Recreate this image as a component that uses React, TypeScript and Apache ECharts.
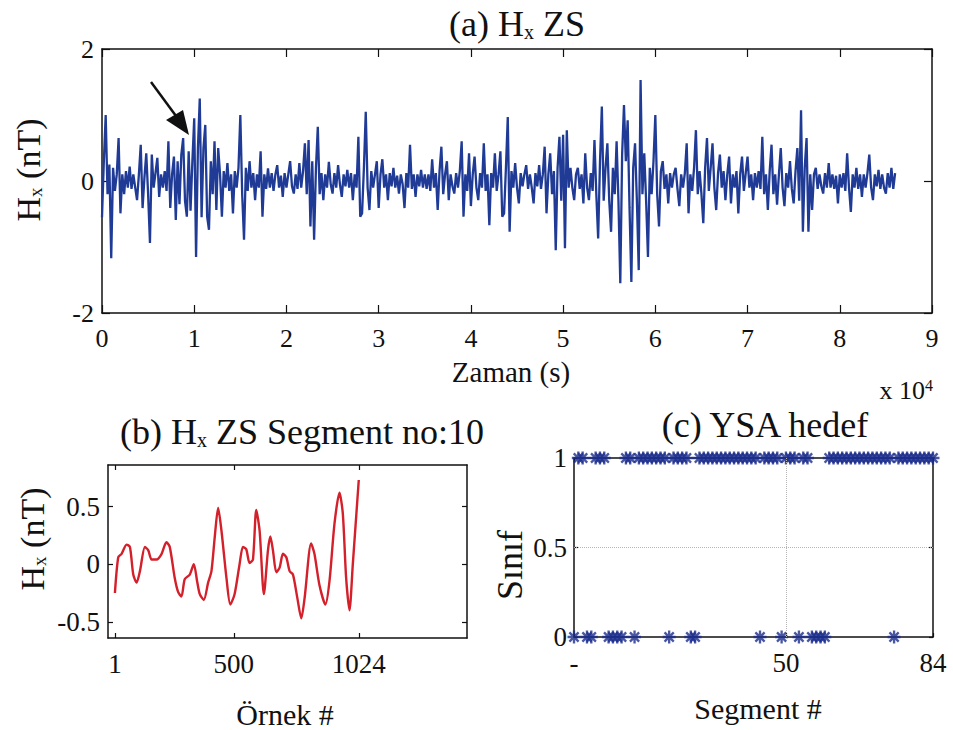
import React, { useEffect, useRef } from 'react';
import * as echarts from 'echarts';

// ---------- data ----------
// (a) Hx signal, one reading every SAMPLE_STEP_S seconds
const SAMPLE_STEP_S = 200;
const hxSignal = [
  -0.55, 0.3, 1.0, -0.2, 0.25, -1.17, 0.2, -0.15, 0.1, 0.65,
  -0.49, 0.1, -0.2, 0.15, -0.1, 0.22, -0.12, 0.1, -0.1, -0.29,
  0.1, 0.55, -0.41, 0.05, 0.42, -0.2, -0.94, 0.4, -0.1, 0.12,
  0.35, -0.24, 0.1, -0.1, 0.15, -0.15, 0.6, -0.41, 0.1, 0.37,
  -0.59, 0.3, -0.35, 0.4, 0.65, -0.3, -0.54, 0.45, -0.45, 0.3,
  0.95, -1.15, 0.5, 1.25, -0.55, 0.5, 0.85, -0.54, -0.74, 0.3,
  -0.2, 0.6, -0.44, 0.5, 0.1, -0.54, 0.15, -0.1, 0.27, -0.15,
  0.1, -0.49, 0.15, -0.1, 0.2, 1.0, -0.2, -0.89, 0.2, -0.15,
  0.3, -0.1, 0.12, -0.29, 0.1, -0.1, 0.45, -0.54, 0.1, -0.12,
  0.19, -0.1, 0.12, -0.15, 0.1, 0.24, -0.1, 0.08, -0.24, 0.12,
  -0.1, 0.1, 0.3, -0.08, -0.19, 0.1, -0.12, 0.27, -0.1, 0.15,
  0.57, -0.2, 0.62, -0.69, 0.3, -0.89, 0.2, 0.82, -0.2, 0.12,
  -0.29, 0.1, -0.1, 0.29, -0.05, -0.19, 0.12, -0.1, 0.24, -0.05,
  -0.24, 0.1, -0.08, 0.17, -0.1, 0.12, -0.29, 0.1, -0.1, 0.67,
  -0.54, -0.49, 0.2, 1.05, -0.1, -0.44, 0.15, -0.1, 0.1, 0.3,
  -0.41, 0.1, 0.33, -0.1, 0.1, -0.29, 0.12, -0.08, 0.2, -0.1,
  0.08, -0.19, 0.1, -0.05, -0.41, 0.12, -0.1, 0.55, -0.12, 0.1,
  -0.24, 0.1, -0.08, 0.17, -0.1, 0.1, -0.12, 0.1, -0.15, 0.33,
  -0.1, 0.12, -0.44, 0.15, 0.52, -0.2, 0.1, 0.3, -0.29, 0.1,
  -0.08, -0.19, 0.12, -0.1, 0.15, 0.6, -0.54, 0.1, -0.15, 0.42,
  -0.38, 0.1, 0.37, -0.1, -0.29, 0.12, -0.1, 0.57, -0.15, 0.1,
  -0.67, 0.12, -0.1, 0.42, -0.15, 0.1, 0.45, -0.54, -0.49, 0.2,
  0.97, -0.77, 0.15, -0.1, 0.27, -0.1, -0.34, 0.12, -0.08, 0.1,
  0.24, -0.12, 0.1, -0.1, -0.34, 0.12, -0.08, 0.24, -0.12, 0.1,
  0.52, -0.49, 0.1, 0.42, -0.2, 0.15, -1.05, 0.2, 0.67, -0.3,
  0.7, -1.02, 0.77, -0.1, 0.2, -0.1, -0.29, 0.1, 0.2, -0.12,
  0.1, -0.34, 0.42, -0.1, -0.29, 0.12, -0.15, 0.62, -0.2, -0.87,
  0.3, 1.13, -0.3, 0.2, 0.57, -0.3, -0.77, 0.2, -0.2, 0.6,
  -0.3, -1.55, 0.4, 1.15, 0.3, 0.92, -0.4, -1.53, 0.2, 0.57,
  -0.3, -1.35, 1.53, -0.2, 0.42, -0.3, -1.15, 0.2, -0.2, 0.3,
  1.0, -0.2, -0.69, 0.15, 0.3, -0.12, 0.1, -0.34, 0.12, -0.1,
  0.1, 0.2, -0.12, -0.38, 0.1, -0.1, 0.12, 0.57, -0.49, 0.1,
  -0.15, 0.2, 0.77, -0.2, 0.15, -0.2, -0.64, 0.2, 0.65, -0.15,
  0.2, 0.57, -0.1, -0.44, 0.12, 0.4, -0.1, 0.15, -0.29, 0.1,
  0.37, -0.34, 0.1, -0.1, 0.15, -0.49, 0.1, 0.37, -0.15, 0.12,
  0.37, -0.1, 0.1, -0.29, 0.12, -0.1, 0.15, -0.12, 0.67, -0.2,
  0.1, -0.44, 0.15, 0.55, -0.2, 0.1, -0.36, 0.1, 0.5, -0.1,
  -0.38, 0.12, -0.1, 0.3, -0.12, -0.34, 0.15, 0.5, -0.3, 1.07,
  -0.77, 0.2, 0.65, -0.77, 0.1, -0.44, 0.1, 0.2, -0.12, 0.1,
  -0.08, -0.19, 0.12, -0.1, 0.27, -0.1, 0.1, -0.12, 0.08, -0.34,
  0.1, -0.1, 0.12, -0.15, 0.42, -0.1, -0.47, 0.1, -0.1, 0.2,
  -0.12, 0.1, -0.24, 0.1, -0.1, 0.12, 0.4, -0.1, -0.29, 0.1,
  -0.08, 0.17, -0.12, 0.1, -0.1, -0.19, 0.12, -0.1, 0.2, -0.12,
  0.12,
];

// (b) segment no. 10, sample index and value
const segSample = [
  1, 15, 29, 50, 64, 78, 92, 106, 127, 141,
  155, 176, 197, 217, 231, 252, 266, 280, 294, 315,
  332, 346, 357, 374, 392, 406, 420, 434, 448, 469,
  485, 503, 524, 538, 552, 566, 580, 594, 608, 626,
  643, 653, 664, 678, 692, 706, 720, 734, 748, 766,
  783, 797, 824, 838, 859, 884, 901, 922, 943, 957,
  971, 985, 999, 1024,
];
const segValue = [
  -0.25, 0.06, 0.09, 0.17, 0.15, -0.09, -0.16, -0.06, 0.15, 0.12,
  0.04, 0.04, 0.09, 0.19, 0.15, -0.12, -0.24, -0.28, -0.13, -0.09,
  0.0, -0.15, -0.26, -0.31, -0.16, -0.06, 0.24, 0.49, 0.29, -0.12,
  -0.35, -0.26, 0.0, 0.15, 0.13, 0.01, 0.04, 0.47, 0.29, -0.26,
  0.12, 0.24, 0.12, -0.07, -0.03, 0.09, 0.06, -0.06, -0.09, -0.29,
  -0.47, -0.29, 0.18, 0.09, -0.18, -0.35, -0.15, 0.35, 0.62, 0.44,
  -0.12, -0.4, 0.0, 0.73,
];

// (c) ANN target class for segments 1..84
const classTarget = [
  0, 1, 1, 0, 0, 1, 1, 1, 0, 0,
  0, 0, 1, 1, 0, 1, 1, 1, 1, 1,
  1, 1, 0, 1, 1, 1, 1, 0, 0, 1,
  1, 1, 1, 1, 1, 1, 1, 1, 1, 1,
  1, 1, 1, 0, 1, 1, 1, 1, 0, 1,
  1, 1, 0, 1, 1, 0, 0, 0, 0, 1,
  1, 1, 1, 1, 1, 1, 1, 1, 1, 1,
  1, 1, 1, 1, 0, 1, 1, 1, 1, 1,
  1, 1, 1, 1,
];

const aYTicks = [-2, 0, 2];
const bXTicks = [1, 500, 1024];
const bYTicks = [-0.5, 0, 0.5];
const cXTicks = [1, 50, 84];

// ---------- styles ----------
const FONT = 'Liberation Serif';
const AXIS_COLOR = '#111';
const ASTERISK =
  'path://M-1.8,-10L1.8,-10L1.8,10L-1.8,10Z' +
  'M-10,-1.8L10,-1.8L10,1.8L-10,1.8Z' +
  'M-5.8,-8.35L8.35,5.8L5.8,8.35L-8.35,-5.8Z' +
  'M-8.35,5.8L5.8,-8.35L8.35,-5.8L-5.8,8.35Z';

function merge(base: any, extra: any) {
  const out: any = { ...base };
  Object.keys(extra).forEach((k) => {
    if (extra[k] && typeof extra[k] === 'object' && !Array.isArray(extra[k]) && base[k] && typeof base[k] === 'object') {
      out[k] = { ...base[k], ...extra[k] };
    } else {
      out[k] = extra[k];
    }
  });
  return out;
}

function axis(gridIndex: number, position: string, tickLen: number, labelSize: number, extra: any) {
  const base = {
    type: 'value',
    gridIndex,
    position,
    axisLine: { show: true, onZero: false, lineStyle: { color: AXIS_COLOR, width: 1.5 } },
    axisTick: { show: true, inside: true, length: tickLen, lineStyle: { color: AXIS_COLOR, width: 1.2 } },
    axisLabel: {
      show: true, color: '#111', fontFamily: FONT, fontSize: labelSize,
      formatter: (v: number) => String(v),
    },
    splitLine: { show: false },
  };
  const res = merge(base, extra);
  if (position === 'top' || position === 'right') res.axisLabel = { ...res.axisLabel, show: false };
  return res;
}

function titleText(x: number, y: number, pre: string, post: string, size: number) {
  return {
    type: 'text',
    x,
    y,
    style: {
      text: `{n|${pre}}{s|x}{n|${post}}`,
      font: `${size}px ${FONT}`,
      align: 'center',
      verticalAlign: 'middle',
      textAlign: 'center',
      textVerticalAlign: 'middle',
      fill: '#111',
      rich: {
        n: { fontFamily: FONT, fontSize: size, lineHeight: size, fill: '#111', color: '#111' },
        s: {
          fontFamily: FONT, fontSize: Math.round(size * 0.55), lineHeight: Math.round(size * 0.3),
          verticalAlign: 'bottom', fill: '#111', color: '#111',
        },
      },
    },
  };
}

function plainText(x: number, y: number, text: string, size: number, rotation = 0) {
  return {
    type: 'text',
    x,
    y,
    rotation,
    style: {
      text,
      font: `${size}px ${FONT}`,
      fontFamily: FONT,
      fontSize: size,
      fill: '#111',
      align: 'center',
      verticalAlign: 'middle',
      textAlign: 'center',
      textVerticalAlign: 'middle',
    },
  };
}

function rotatedHx(x: number, y: number, size: number) {
  const t: any = titleText(x, y, 'H', ' (nT)', size);
  t.rotation = Math.PI / 2;
  return t;
}

export default function App() {
  const ref = useRef<HTMLDivElement>(null);

  useEffect(() => {
    document.body.style.margin = '0';
    if (!ref.current) return;
    const chart = echarts.init(ref.current, undefined, { renderer: 'svg' });

    const hxData = hxSignal.map((v, i) => [i * SAMPLE_STEP_S, v]);
    const segData = segSample.map((s, i) => [s, segValue[i]]);
    const classData = classTarget.map((c, i) => [i + 1, c]);

    const option: any = {
      animation: false,
      backgroundColor: '#fff',
      textStyle: { fontFamily: FONT },
      grid: [
        { left: 102, top: 49, width: 830, height: 264 },
        { left: 108, top: 465, width: 359, height: 173 },
        { left: 574, top: 458, width: 359, height: 179 },
      ],
      xAxis: [
        axis(0, 'bottom', 8, 26, {
          min: 0, max: 90000, interval: 10000,
          axisLabel: { margin: 12, formatter: (v: number) => String(v / 10000) },
        }),
        axis(0, 'top', 8, 26, { min: 0, max: 90000, interval: 10000 }),
        axis(1, 'bottom', 5, 27, {
          min: -28, max: 1478,
          axisTick: { customValues: bXTicks },
          axisLabel: { margin: 12, customValues: bXTicks },
        }),
        axis(1, 'top', 5, 27, { min: -28, max: 1478, axisTick: { customValues: bXTicks }, axisLabel: { customValues: bXTicks } }),
        axis(2, 'bottom', 4, 27, {
          min: 1, max: 84,
          axisTick: { customValues: cXTicks },
          axisLabel: { margin: 12, customValues: cXTicks, formatter: (v: number) => (v === 1 ? '-' : String(v)) },
        }),
        axis(2, 'top', 4, 27, { min: 1, max: 84, axisTick: { customValues: cXTicks }, axisLabel: { customValues: cXTicks } }),
      ],
      yAxis: [
        axis(0, 'left', 8, 26, {
          min: -2, max: 2,
          axisTick: { customValues: aYTicks },
          axisLabel: { margin: 8, customValues: aYTicks },
        }),
        axis(0, 'right', 8, 26, { min: -2, max: 2, axisTick: { customValues: aYTicks }, axisLabel: { customValues: aYTicks } }),
        axis(1, 'left', 5, 27, {
          min: -0.64, max: 0.86,
          axisTick: { customValues: bYTicks },
          axisLabel: { margin: 8, customValues: bYTicks },
        }),
        axis(1, 'right', 5, 27, { min: -0.64, max: 0.86, axisTick: { customValues: bYTicks }, axisLabel: { customValues: bYTicks } }),
        axis(2, 'left', 4, 27, {
          min: 0, max: 1, interval: 0.5,
          axisLabel: { margin: 7 },
        }),
        axis(2, 'right', 4, 27, { min: 0, max: 1, interval: 0.5 }),
      ],
      series: [
        {
          type: 'line',
          xAxisIndex: 0,
          yAxisIndex: 0,
          data: hxData,
          showSymbol: false,
          lineStyle: { color: '#1f3b95', width: 2.3 },
          z: 3,
        },
        {
          type: 'line',
          xAxisIndex: 2,
          yAxisIndex: 2,
          data: segData,
          showSymbol: false,
          smooth: 0.25,
          lineStyle: { color: '#d3202b', width: 2.4 },
          z: 3,
        },
        {
          type: 'scatter',
          xAxisIndex: 4,
          yAxisIndex: 4,
          data: classData,
          symbol: ASTERISK,
          symbolSize: 13,
          itemStyle: { color: '#1c2d8c' },
          z: 4,
          markLine: {
            silent: true,
            symbol: ['none', 'none'],
            label: { show: false },
            lineStyle: { type: 'dotted', color: '#b5b5b5', width: 1 },
            data: [{ xAxis: 50 }, { yAxis: 0.5 }],
          },
        },
      ],
      graphic: [
        titleText(517, 24, '(a) H', ' ZS', 36),
        titleText(302, 432, '(b) H', ' ZS Segment no:10', 36),
        plainText(765, 425, '(c) YSA hedef', 36),
        rotatedHx(28, 170, 34),
        rotatedHx(32, 539, 34),
        plainText(510, 565, 'Sınıf', 36, Math.PI / 2),
        plainText(511, 372, 'Zaman (s)', 29),
        plainText(285, 714, 'Örnek #', 30),
        plainText(758, 708, 'Segment #', 30),
        {
          type: 'text',
          x: 933,
          y: 390,
          style: {
            text: '{n|x 10}{p|4}',
            font: `26px ${FONT}`,
            align: 'right',
            verticalAlign: 'middle',
            textAlign: 'right',
            textVerticalAlign: 'middle',
            rich: {
              n: { fontFamily: FONT, fontSize: 26, fill: '#111', color: '#111' },
              p: { fontFamily: FONT, fontSize: 16, verticalAlign: 'top', fill: '#111', color: '#111' },
            },
          },
        },
        {
          type: 'line',
          shape: { x1: 151, y1: 82, x2: 176, y2: 116 },
          style: { stroke: '#111', lineWidth: 2.5 },
          z: 10,
        },
        {
          type: 'polygon',
          shape: { points: [[189, 135], [166, 120], [183, 110]] },
          style: { fill: '#111' },
          z: 10,
        },
      ],
    };

    chart.setOption(option);
    return () => chart.dispose();
  }, []);

  return <div ref={ref} style={{ width: 953, height: 730 }} />;
}
